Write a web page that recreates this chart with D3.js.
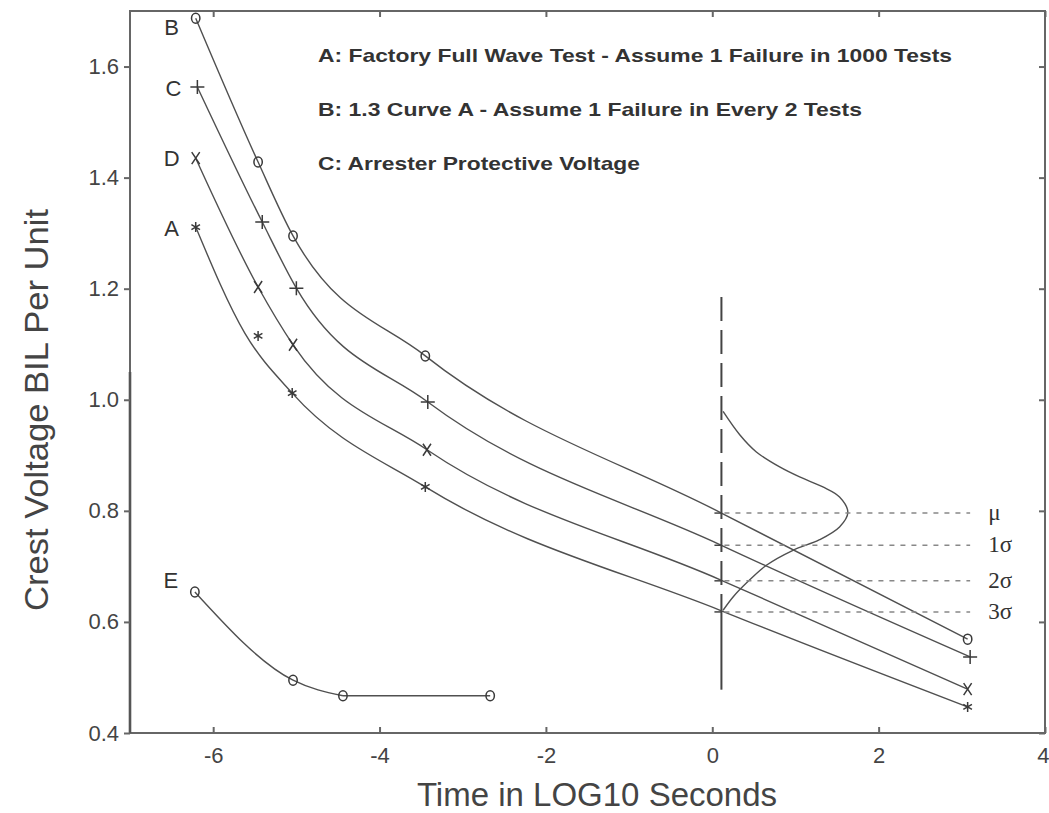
<!DOCTYPE html>
<html>
<head>
<meta charset="utf-8">
<script src="https://cdn.jsdelivr.net/npm/d3@7"></script>
<style>
  html, body { margin: 0; padding: 0; background: #fff; }
  svg { display: block; }
</style>
</head>
<body>
<svg id="chart" width="1049" height="813"></svg>
<script>
// ---------------- data ----------------
const xTicks = [-6, -4, -2, 0, 2, 4];
const yTicks = [0.4, 0.6, 0.8, 1.0, 1.2, 1.4, 1.6];

// curve B (o): 1.3 x curve A
const curveB = [[-6.21, 1.687], [-5.46, 1.428], [-5.04, 1.295], [-3.45, 1.079], [0.11, 0.796], [3.07, 0.569]];
const markB  = [[-6.21, 1.687], [-5.46, 1.428], [-5.04, 1.295], [-3.45, 1.079], [3.07, 0.569]];
// curve C (+): arrester protective voltage
const curveC = [[-6.19, 1.563], [-5.41, 1.320], [-5.00, 1.201], [-3.42, 0.996], [0.11, 0.738], [3.10, 0.537]];
const markC  = [[-6.19, 1.563], [-5.41, 1.320], [-5.00, 1.201], [-3.42, 0.996], [3.10, 0.537]];
// curve D (x)
const curveD = [[-6.21, 1.435], [-5.46, 1.203], [-5.04, 1.099], [-3.43, 0.910], [0.11, 0.675], [3.07, 0.479]];
const markD  = [[-6.21, 1.435], [-5.46, 1.203], [-5.04, 1.099], [-3.43, 0.910], [3.07, 0.479]];
// curve A (*): factory full wave test
const curveA = [[-6.21, 1.311], [-5.62, 1.120], [-5.05, 1.012], [-3.45, 0.843], [0.11, 0.620], [3.07, 0.447]];
const markA  = [[-6.21, 1.311], [-5.46, 1.115], [-5.05, 1.012], [-3.45, 0.843], [3.07, 0.447]];
// curve E (o)
const curveE = [[-6.22, 0.654], [-5.04, 0.495], [-4.44, 0.467], [-2.67, 0.467]];
const markE  = [[-6.22, 0.654], [-5.04, 0.495], [-4.44, 0.467], [-2.67, 0.467]];

// distribution at the arrester time
const distCurve = [[0.13, 0.979], [0.33, 0.937], [0.53, 0.906], [0.81, 0.879], [1.05, 0.861], [1.33, 0.843],
                   [1.53, 0.825], [1.63, 0.797], [1.53, 0.771], [1.29, 0.748], [0.97, 0.729], [0.65, 0.702],
                   [0.41, 0.670], [0.25, 0.645], [0.13, 0.621]];
const vLineX = 0.11;
const vDashed = [1.185, 0.620];
const vSolid = [0.620, 0.478];
const sigmaLevels = [0.796, 0.738, 0.674, 0.618];
const sigmaLabels = ["μ", "1σ", "2σ", "3σ"];
const sigmaEndX = 3.10;

const curveLabels = ["B", "C", "D", "A", "E"];
const legendLines = [
  "A: Factory Full Wave Test - Assume 1 Failure in 1000 Tests",
  "B: 1.3  Curve A - Assume 1 Failure in Every 2 Tests",
  "C: Arrester Protective Voltage"
];
const xTitle = "Time in LOG10 Seconds";
const yTitle = "Crest Voltage BIL Per Unit";

// ---------------- chart ----------------
const svg = d3.select("#chart");
const L = 130, R = 1045, T = 11, B = 733;
const x = d3.scaleLinear().domain([-7, 4]).range([L, R]);
const y = d3.scaleLinear().domain([0.4, 1.7]).range([B, T]);

const ink = "#444";
const frame = "#666";

// frame
svg.append("rect").attr("x", L).attr("y", T).attr("width", R - L).attr("height", B - T)
  .attr("fill", "none").attr("stroke", frame).attr("stroke-width", 2);
// darker lower part of the left axis (as in the scan)
svg.append("line").attr("x1", L).attr("x2", L).attr("y1", y(1.05)).attr("y2", B)
  .attr("stroke", "#555").attr("stroke-width", 2.6);

// axes
const gx = svg.append("g").attr("transform", `translate(0,${B})`)
  .call(d3.axisBottom(x).tickValues(xTicks).tickSize(-6).tickPadding(14).tickFormat(d3.format("d")));
const gy = svg.append("g").attr("transform", `translate(${L},0)`)
  .call(d3.axisLeft(y).tickValues(yTicks).tickSize(6).tickPadding(5).tickFormat(d3.format(".1f")));
const gt = svg.append("g").attr("transform", `translate(0,${T})`)
  .call(d3.axisTop(x).tickValues(xTicks).tickSize(-6).tickFormat(""));
const gr = svg.append("g").attr("transform", `translate(${R},0)`)
  .call(d3.axisRight(y).tickValues(yTicks).tickSize(-6).tickFormat(""));
[gx, gy, gt, gr].forEach(g => {
  g.select(".domain").remove();
  g.selectAll(".tick line").attr("stroke", frame).attr("stroke-width", 2);
  g.selectAll("text").attr("fill", ink).style("font-family", "Liberation Sans, Arial, sans-serif")
    .style("font-size", "22px");
});
gx.selectAll("text").text(d => d < 0 ? "-" + Math.abs(d) : d)
  .attr("text-anchor", d => d === 4 ? "end" : "middle")
  .attr("dx", d => d === 4 ? 4 : 0);

// axis titles
svg.append("text").attr("x", 597).attr("y", 806)
  .attr("text-anchor", "middle").attr("fill", ink)
  .style("font-family", "Liberation Sans, Arial, sans-serif").style("font-size", "33px")
  .text(xTitle);
svg.append("text").attr("transform", `translate(48,${410}) rotate(-90)`)
  .attr("text-anchor", "middle").attr("fill", ink)
  .style("font-family", "Liberation Sans, Arial, sans-serif").style("font-size", "34px")
  .attr("textLength", 402).attr("lengthAdjust", "spacingAndGlyphs")
  .text(yTitle);

// curves
const smooth = d3.line().x(d => x(d[0])).y(d => y(d[1])).curve(d3.curveMonotoneX);
const straight = d3.line().x(d => x(d[0])).y(d => y(d[1]));
const lineStyle = sel => sel.attr("fill", "none").attr("stroke", "#505050").attr("stroke-width", 1.4);

[curveB, curveC, curveD, curveA].forEach(c => svg.append("path").attr("d", smooth(c)).call(lineStyle));
svg.append("path").attr("d", smooth(curveE.slice(0, 3))).call(lineStyle);
svg.append("path").attr("d", straight(curveE.slice(2))).call(lineStyle);

// distribution curve
svg.append("path").attr("d", d3.line().x(d => x(d[0])).y(d => y(d[1])).curve(d3.curveCatmullRom)(distCurve))
  .call(lineStyle);

// vertical line
svg.append("line").attr("x1", x(vLineX)).attr("x2", x(vLineX)).attr("y1", y(vDashed[0])).attr("y2", y(vDashed[1]))
  .attr("stroke", "#444").attr("stroke-width", 2).attr("stroke-dasharray", "24,9");
svg.append("line").attr("x1", x(vLineX)).attr("x2", x(vLineX)).attr("y1", y(vSolid[0])).attr("y2", y(vSolid[1]))
  .attr("stroke", "#444").attr("stroke-width", 2);

// sigma levels
sigmaLevels.forEach((v, i) => {
  svg.append("line").attr("x1", x(vLineX) + 3).attr("x2", x(sigmaEndX)).attr("y1", y(v)).attr("y2", y(v))
    .attr("stroke", "#888").attr("stroke-width", 1.5).attr("stroke-dasharray", "5,6");
  svg.append("line").attr("x1", x(vLineX) - 7).attr("x2", x(vLineX)).attr("y1", y(v)).attr("y2", y(v))
    .attr("stroke", "#444").attr("stroke-width", 1.5);
  svg.append("text").attr("x", x(sigmaEndX) + 18).attr("y", y(v) + 7)
    .attr("fill", "#333").style("font-family", "Liberation Serif, Times New Roman, serif").style("font-size", "23px")
    .text(sigmaLabels[i]);
});

// markers
function marker(type, cx, cy) {
  const g = svg.append("g").attr("transform", `translate(${cx},${cy})`)
    .attr("fill", "none").attr("stroke", "#3a3a3a").attr("stroke-width", 1.5);
  if (type === "o") {
    g.append("ellipse").attr("rx", 4.2).attr("ry", 5).attr("cx", 0).attr("cy", 0);
  } else if (type === "+") {
    g.append("path").attr("d", "M-7,0H7M0,-7V7");
  } else if (type === "x") {
    g.append("path").attr("d", "M-4,-6L4,6M4,-6L-4,6");
  } else if (type === "*") {
    g.append("path").attr("d", "M0,-5V5M-4.3,-2.5L4.3,2.5M4.3,-2.5L-4.3,2.5");
  }
}
const markSets = [[markB, "o"], [markC, "+"], [markD, "x"], [markA, "*"], [markE, "o"]];
markSets.forEach(([pts, t]) => pts.forEach(p => marker(t, x(p[0]), y(p[1]))));

// curve labels
const labelAnchors = [markB[0], markC[0], markD[0], markA[0], markE[0]];
const labelDy = [9, 1, 0, 1, -12];
curveLabels.forEach((lab, i) => {
  svg.append("text").attr("x", x(labelAnchors[i][0]) - 24).attr("y", y(labelAnchors[i][1]) + labelDy[i] + 8)
    .attr("text-anchor", "middle").attr("fill", "#333")
    .style("font-family", "Liberation Sans, Arial, sans-serif").style("font-size", "22px")
    .text(lab);
});

// legend text
const legendWidths = [634, 544, 322];
legendLines.forEach((t, i) => {
  svg.append("text").attr("x", 318).attr("y", 62 + i * 54)
    .attr("fill", "#333").attr("textLength", legendWidths[i]).attr("lengthAdjust", "spacingAndGlyphs")
    .style("font-family", "Liberation Sans, Arial, sans-serif").style("font-size", "19px").style("font-weight", "bold")
    .text(t);
});
</script>
</body>
</html>
